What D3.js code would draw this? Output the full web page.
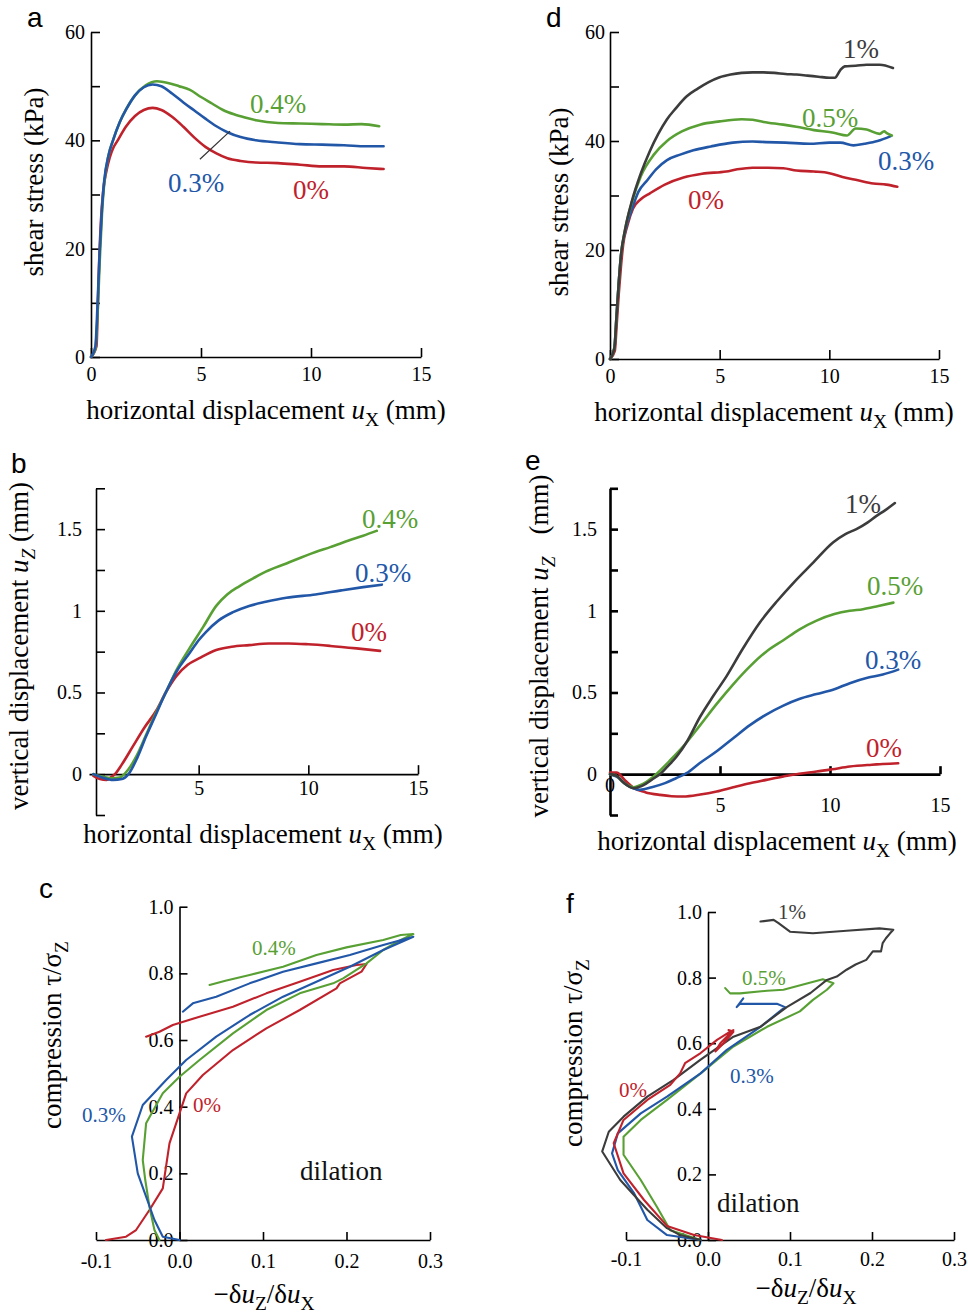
<!DOCTYPE html>
<html>
<head>
<meta charset="utf-8">
<script src="https://cdn.jsdelivr.net/npm/d3@7"></script>
<style>
  body { margin: 0; background: #fff; }
  svg { display: block; }
</style>
</head>
<body>
<svg id="chart" width="968" height="1313" font-family="'Liberation Serif', 'DejaVu Serif', 'Times New Roman', Times, serif"></svg>
<script>
// ---- data: [x, y] pairs ----
// a: shear stress (kPa) vs ux (mm)
const a_0 = [[0,0],[0.25,2],[0.3,8],[0.35,15],[0.45,25],[0.55,30.5],[0.7,34.3],[0.85,36.8],[1.0,38.5],[1.2,39.9],[1.6,42.6],[2.0,44.5],[2.4,45.6],[2.8,46],[3.2,45.6],[3.7,44.3],[4.2,42.5],[4.7,40.5],[5.2,38.8],[5.7,37.6],[6.2,36.7],[6.8,36.2],[7.5,35.9],[8.5,35.8],[9.5,35.5],[10.5,35.2],[11.5,35.2],[12.5,34.9],[13.3,34.7]];
const a_03 = [[0,0],[0.2,2],[0.3,10],[0.4,20],[0.5,27.5],[0.6,32.5],[0.8,37.3],[1.0,40],[1.3,43.3],[1.6,45.7],[2.0,48.3],[2.4,49.8],[2.8,50.3],[3.2,50],[3.7,48.6],[4.2,47],[4.7,45.5],[5.2,44],[5.7,42.6],[6.2,41.5],[6.8,40.6],[7.5,40],[8.5,39.6],[9.5,39.3],[10.5,39.2],[11.5,39.1],[12.5,38.9],[13.3,38.9]];
const a_04 = [[0,0],[0.2,1.5],[0.3,8],[0.4,18],[0.5,26.5],[0.6,32],[0.8,37.3],[1.0,40],[1.3,43.3],[1.6,45.8],[2.0,48.3],[2.5,50.2],[3.0,50.9],[3.5,50.6],[4.0,50],[4.5,49.3],[5.0,48],[5.5,46.8],[6.0,45.6],[6.5,44.8],[7.0,44.2],[7.5,43.7],[8.5,43.2],[9.5,43.1],[10.5,43],[11.5,42.9],[12.3,43],[13.1,42.6]];
const a_pointer = [[4.95,36.5],[6.32,41.7]];

// d: shear stress (kPa) vs ux (mm)
const d_1 = [[0,0],[0.2,2],[0.3,8],[0.4,14],[0.5,19],[0.7,24],[1.0,29],[1.4,34],[1.8,38],[2.2,41.3],[2.6,44],[3.0,46],[3.5,48.2],[4.0,49.6],[4.5,50.8],[5.0,51.7],[5.5,52.2],[6.0,52.5],[6.5,52.6],[7.0,52.6],[7.5,52.5],[8.0,52.3],[8.5,52.2],[9.0,52],[9.5,51.8],[10.0,51.6],[10.25,51.6],[10.5,53],[10.7,53.7],[11.2,53.8],[11.7,54],[12.3,54],[12.9,53.4]];
const d_05 = [[0,0],[0.2,2],[0.3,8],[0.4,14],[0.5,19],[0.7,24],[1.0,28.8],[1.4,33.5],[2.0,37.5],[2.6,40],[3.3,41.8],[4.1,43],[5.0,43.6],[6.0,44],[6.5,43.9],[7.0,43.5],[7.9,43],[8.5,42.6],[9.3,42],[10.2,41.5],[10.8,41],[11.2,42.3],[11.7,42.1],[12.3,41.3],[12.5,41.8],[12.6,41.5],[12.85,41]];
const d_03 = [[0,0],[0.2,2],[0.3,8],[0.4,14],[0.5,19],[0.7,23.5],[1.0,27.5],[1.3,30.7],[1.7,32.8],[2.1,34.8],[2.6,36.5],[3.2,37.5],[3.8,38.3],[4.6,39],[5.6,39.7],[6.5,39.9],[7.1,39.8],[8.0,39.7],[9.1,39.5],[10.0,39.7],[10.5,39.7],[11.1,39.2],[11.6,39.5],[12.2,40],[12.8,40.9]];
const d_0 = [[0,0],[0.22,1.5],[0.3,6],[0.4,12],[0.5,17],[0.6,21],[0.8,24.6],[1.05,27.6],[1.4,29.3],[1.82,30.4],[2.5,32],[3.35,33.3],[4.2,34],[5.3,34.4],[5.8,34.8],[6.5,35.1],[7.2,35.1],[7.9,35],[8.5,34.6],[9.3,34.4],[10.0,34.1],[10.6,33.4],[11.3,32.8],[12.0,32.2],[12.6,32],[13.1,31.6]];

// b: vertical displacement uz (mm) vs ux (mm)
const b_04 = [[0.2,0],[0.6,-0.015],[1.0,-0.025],[1.4,-0.02],[1.8,0.03],[2.2,0.12],[2.6,0.24],[3.0,0.36],[3.5,0.5],[4.0,0.64],[4.58,0.77],[5.2,0.9],[5.8,1.03],[6.3,1.1],[6.85,1.15],[7.5,1.2],[8.06,1.24],[9.0,1.29],[10.33,1.36],[11.0,1.39],[11.84,1.43],[12.5,1.46],[13.12,1.49]];
const b_03 = [[0.2,0],[0.6,-0.02],[1.1,-0.035],[1.5,-0.03],[1.8,0],[2.2,0.1],[2.6,0.23],[3.0,0.35],[3.5,0.5],[4.0,0.63],[4.58,0.74],[5.0,0.82],[5.33,0.87],[5.9,0.94],[6.54,0.99],[7.3,1.03],[8.06,1.055],[9.0,1.08],[10.33,1.1],[11.5,1.125],[12.5,1.145],[13.35,1.16]];
const b_0 = [[0.2,-0.01],[0.5,-0.03],[0.8,-0.035],[1.0,-0.02],[1.18,0],[1.5,0.06],[2.0,0.17],[2.5,0.28],[3.07,0.39],[3.5,0.5],[3.98,0.6],[4.5,0.67],[5.03,0.71],[5.8,0.76],[6.5,0.78],[7.3,0.79],[8.2,0.8],[9.1,0.8],[10.0,0.795],[11.0,0.785],[12.2,0.77],[13.27,0.755]];

// e: vertical displacement uz (mm) vs ux (mm)
const e_1 = [[0,0],[0.3,-0.01],[0.6,-0.05],[1.06,-0.086],[1.4,-0.075],[1.67,-0.055],[2.0,-0.025],[2.27,0],[2.6,0.045],[3.03,0.108],[3.5,0.2],[4.09,0.35],[4.7,0.48],[5.3,0.6],[6.0,0.76],[6.82,0.93],[7.6,1.06],[8.33,1.17],[9.2,1.29],[10.15,1.42],[10.7,1.47],[11.2,1.5],[11.7,1.54],[12.1,1.58],[12.5,1.615],[12.95,1.66]];
const e_05 = [[0,0],[0.3,-0.01],[0.6,-0.05],[1.06,-0.08],[1.5,-0.06],[2.1,0],[2.7,0.08],[3.33,0.17],[4.1,0.3],[4.85,0.43],[5.6,0.55],[6.36,0.66],[7.1,0.75],[7.88,0.82],[8.6,0.885],[9.39,0.94],[10.2,0.98],[10.9,1.0],[11.5,1.01],[12.2,1.03],[12.88,1.05]];
const e_03 = [[0,0],[0.3,-0.015],[0.7,-0.06],[1.36,-0.096],[1.9,-0.08],[2.5,-0.055],[3.0,-0.025],[3.48,0.006],[4.1,0.07],[4.85,0.14],[5.6,0.22],[6.36,0.3],[7.1,0.365],[7.88,0.42],[8.6,0.46],[9.39,0.49],[10.2,0.52],[10.9,0.557],[11.7,0.59],[12.4,0.61],[13.1,0.64]];
const e_0 = [[0,0.01],[0.3,0.01],[0.7,-0.04],[1.06,-0.082],[1.6,-0.11],[2.27,-0.127],[2.8,-0.135],[3.33,-0.137],[4.1,-0.125],[4.85,-0.106],[5.6,-0.08],[6.36,-0.055],[7.1,-0.035],[7.88,-0.014],[8.6,0.003],[9.39,0.016],[10.1,0.03],[10.9,0.047],[11.9,0.058],[13.1,0.067]];

// c: tau/sigma_z vs -duz/dux (path order)
const c_04 = [[-0.024,0],[-0.03,0.03],[-0.036,0.1],[-0.041,0.18],[-0.044,0.24],[-0.04,0.35],[-0.02,0.44],[0,0.49],[0.024,0.54],[0.064,0.62],[0.104,0.69],[0.144,0.74],[0.184,0.77],[0.196,0.785],[0.224,0.83],[0.244,0.87],[0.265,0.9],[0.28,0.918],[0.265,0.915],[0.244,0.9],[0.2,0.878],[0.164,0.855],[0.124,0.82],[0.084,0.795],[0.055,0.778],[0.036,0.765]];
const c_03 = [[0,0],[-0.02,0.01],[-0.03,0.06],[-0.04,0.13],[-0.05,0.2],[-0.057,0.31],[-0.044,0.405],[-0.016,0.48],[0.008,0.54],[0.044,0.61],[0.084,0.675],[0.124,0.73],[0.164,0.775],[0.204,0.82],[0.244,0.87],[0.28,0.91],[0.244,0.885],[0.204,0.855],[0.164,0.83],[0.124,0.805],[0.084,0.77],[0.044,0.73],[0.016,0.71],[0.004,0.685]];
const c_0 = [[-0.088,0],[-0.064,0.01],[-0.052,0.03],[-0.036,0.09],[-0.02,0.155],[-0.012,0.29],[0,0.38],[0.008,0.44],[0.028,0.495],[0.064,0.57],[0.104,0.635],[0.144,0.69],[0.188,0.755],[0.192,0.77],[0.218,0.805],[0.224,0.828],[0.212,0.825],[0.184,0.81],[0.144,0.775],[0.104,0.74],[0.064,0.7],[0.024,0.67],[-0.008,0.645],[-0.024,0.625],[-0.04,0.61]];

// f: tau/sigma_z vs -duz/dux (path order)
const f_1 = [[-0.009,0],[-0.034,0.015],[-0.05,0.036],[-0.074,0.092],[-0.107,0.183],[-0.129,0.27],[-0.121,0.33],[-0.103,0.376],[-0.074,0.437],[-0.042,0.488],[-0.009,0.55],[0.031,0.62],[0.064,0.65],[0.096,0.71],[0.125,0.753],[0.145,0.793],[0.157,0.803],[0.169,0.824],[0.18,0.84],[0.193,0.854],[0.201,0.88],[0.211,0.88],[0.213,0.905],[0.217,0.92],[0.222,0.935],[0.226,0.946],[0.209,0.95],[0.169,0.943],[0.128,0.935],[0.1,0.94],[0.086,0.966],[0.08,0.976],[0.064,0.971]];
const f_05 = [[-0.009,0],[-0.046,0.03],[-0.062,0.1],[-0.082,0.183],[-0.103,0.26],[-0.103,0.315],[-0.082,0.366],[-0.05,0.427],[-0.009,0.508],[0.031,0.59],[0.072,0.65],[0.112,0.697],[0.128,0.732],[0.145,0.763],[0.153,0.783],[0.14,0.795],[0.092,0.763],[0.072,0.76],[0.039,0.752],[0.027,0.752],[0.021,0.768]];
const f_03 = [[-0.009,0],[-0.05,0.015],[-0.074,0.061],[-0.09,0.142],[-0.11,0.213],[-0.117,0.264],[-0.11,0.325],[-0.082,0.386],[-0.05,0.437],[-0.009,0.508],[0.023,0.58],[0.064,0.65],[0.084,0.69],[0.094,0.71],[0.084,0.72],[0.039,0.72],[0.035,0.71],[0.043,0.737]];
const f_0 = [[0.017,0],[-0.017,0.015],[-0.05,0.043],[-0.078,0.122],[-0.103,0.203],[-0.115,0.295],[-0.103,0.366],[-0.074,0.427],[-0.046,0.473],[-0.034,0.508],[-0.028,0.539],[-0.009,0.57],[0.011,0.61],[0.027,0.635],[0.031,0.64],[0.015,0.6],[0.009,0.575],[0.019,0.6],[0.031,0.635],[0.025,0.64]];

// tick values
const stressTicks = [0, 20, 40, 60];
const stressMinor = [10, 30, 50];
const uxTicks = [0, 5, 10, 15];
const uxTicksNoZero = [5, 10, 15];
const uzTicks = [0, 0.5, 1, 1.5];
const uzMinor = [-0.25, 0.25, 0.75, 1.25, 1.75];
const ratioTicks = [0, 0.2, 0.4, 0.6, 0.8, 1.0];
const dilTicks = [-0.1, 0, 0.1, 0.2, 0.3];

const RED = "#c0222c", GREEN = "#58a034", BLUE = "#2257a8", BLACK = "#3c3c3c";
const SERIF = "'Liberation Serif', 'DejaVu Serif', 'Times New Roman', Times, serif";

const svg = d3.select("#chart");

function axes(o) {
  const xa = svg.append("g").attr("transform", `translate(0,${o.xAt})`)
    .call(d3.axisBottom(o.x).tickValues(o.xTicks).tickSize(-o.tick).tickSizeOuter(0)
      .tickPadding(o.xPad).tickFormat(o.fx || (d => d)));
  const ya = svg.append("g").attr("transform", `translate(${o.yAt},0)`)
    .call(d3.axisLeft(o.y).tickValues(o.yTicks).tickSize(-o.tick).tickSizeOuter(0)
      .tickPadding(o.yPad).tickFormat(o.fy || (d => d)));
  [xa, ya].forEach(g => {
    g.attr("font-family", SERIF).attr("font-size", 20);
    g.selectAll("path, line").attr("stroke-width", o.sw);
  });
  if (o.yMinor) {
    const ym = svg.append("g").attr("transform", `translate(${o.yAt},0)`)
      .call(d3.axisLeft(o.y).tickValues(o.yMinor).tickSize(-o.tick).tickSizeOuter(0).tickFormat(""));
    ym.select(".domain").remove();
    ym.selectAll("line").attr("stroke-width", o.sw);
  }
}

function curve(x, y, data, color, w, c) {
  svg.append("path").datum(data)
    .attr("fill", "none").attr("stroke", color).attr("stroke-width", w)
    .attr("stroke-linejoin", "round").attr("stroke-linecap", "round")
    .attr("d", d3.line().x(d => x(d[0])).y(d => y(d[1])).curve(c || d3.curveMonotoneX));
}

function txt(x, y, s, color, size, anchor) {
  svg.append("text").attr("x", x).attr("y", y).attr("fill", color)
    .attr("font-family", SERIF)
    .attr("font-size", size).attr("text-anchor", anchor || "start").text(s);
}

// parts: {t, it, sub, dx}
function title(x, y, parts, rot, size) {
  size = size || 27;
  const t = svg.append("text").attr("text-anchor", "middle").attr("font-size", size)
    .attr("font-family", SERIF)
    .attr("transform", `translate(${x},${y})` + (rot ? " rotate(-90)" : ""));
  let down = false;
  parts.forEach(p => {
    const s = t.append("tspan").text(p.t);
    if (p.it) s.attr("font-style", "italic");
    if (p.dx) s.attr("dx", p.dx);
    if (p.sub) { s.attr("font-size", size * 0.72).attr("dy", size * 0.25); down = true; }
    else if (down) { s.attr("dy", -size * 0.25); down = false; }
  });
}

function letter(x, y, s) {
  svg.append("text").attr("x", x).attr("y", y).attr("font-size", 28)
    .attr("font-family", "'Liberation Sans', Arial, sans-serif").text(s);
}

const uxTitle = [{t: "horizontal displacement "}, {t: "u", it: true}, {t: "X", sub: true}, {t: " (mm)"}];

// ---------- panel a ----------
{
  const x = d3.scaleLinear().domain([0, 15]).range([91, 421]);
  const y = d3.scaleLinear().domain([0, 60]).range([357, 32]);
  axes({x, y, xAt: y(0), yAt: x(0), xTicks: uxTicks, yTicks: stressTicks, yMinor: stressMinor,
        tick: 9, xPad: 10, yPad: 6, sw: 1.6});
  curve(x, y, a_0, RED, 2.6);
  curve(x, y, a_04, GREEN, 2.6);
  curve(x, y, a_03, BLUE, 2.6);
  svg.append("path").datum(a_pointer).attr("stroke", "#333").attr("stroke-width", 1.2)
    .attr("d", d3.line().x(d => x(d[0])).y(d => y(d[1])));
  txt(250, 113, "0.4%", GREEN, 27);
  txt(168, 192, "0.3%", BLUE, 27);
  txt(293, 199, "0%", RED, 27);
  letter(27, 27, "a");
  title(266, 419, uxTitle);
  title(43, 182, [{t: "shear stress (kPa)"}], true);
}

// ---------- panel d ----------
{
  const x = d3.scaleLinear().domain([0, 15]).range([610, 939]);
  const y = d3.scaleLinear().domain([0, 60]).range([359, 32]);
  axes({x, y, xAt: y(0), yAt: x(0), xTicks: uxTicks, yTicks: stressTicks, yMinor: stressMinor,
        tick: 9, xPad: 10, yPad: 5, sw: 1.6});
  curve(x, y, d_0, RED, 2.6);
  curve(x, y, d_03, BLUE, 2.6);
  curve(x, y, d_05, GREEN, 2.6);
  curve(x, y, d_1, BLACK, 2.6);
  txt(843, 58, "1%", BLACK, 27);
  txt(802, 127, "0.5%", GREEN, 27);
  txt(878, 170, "0.3%", BLUE, 27);
  txt(688, 209, "0%", RED, 27);
  letter(546, 27, "d");
  title(774, 421, uxTitle);
  title(568, 202, [{t: "shear stress (kPa)"}], true);
}

// ---------- panel b ----------
{
  const x = d3.scaleLinear().domain([0, 15]).range([89, 418]);
  const y = d3.scaleLinear().domain([-0.25, 1.75]).range([815, 488.3]);
  axes({x, y, xAt: y(0), yAt: 96, xTicks: uxTicksNoZero, yTicks: uzTicks, yMinor: uzMinor,
        tick: 9, xPad: 7, yPad: 14, sw: 1.6});
  curve(x, y, b_0, RED, 2.6);
  curve(x, y, b_04, GREEN, 2.6);
  curve(x, y, b_03, BLUE, 2.6);
  txt(362, 528, "0.4%", GREEN, 27);
  txt(355, 582, "0.3%", BLUE, 27);
  txt(351, 641, "0%", RED, 27);
  letter(11, 473, "b");
  title(263, 843, uxTitle);
  title(28, 646, [{t: "vertical displacement "}, {t: "u", it: true}, {t: "Z", sub: true, it: true}, {t: " (mm)"}], true);
}

// ---------- panel e ----------
{
  const x = d3.scaleLinear().domain([0, 15]).range([610, 940]);
  const y = d3.scaleLinear().domain([-0.25, 1.75]).range([815, 488.3]);
  axes({x, y, xAt: y(0), yAt: x(0), xTicks: uxTicksNoZero, yTicks: uzTicks, yMinor: uzMinor,
        tick: 8, xPad: 24, yPad: 13, sw: 2.6});
  svg.append("text").attr("x", x(0)).attr("y", y(0) + 18).attr("font-size", 20)
    .attr("font-family", SERIF).attr("text-anchor", "middle").text("0");
  curve(x, y, e_0, RED, 2.6);
  curve(x, y, e_03, BLUE, 2.6);
  curve(x, y, e_05, GREEN, 2.6);
  curve(x, y, e_1, BLACK, 2.6);
  txt(845, 513, "1%", BLACK, 27);
  txt(867, 595, "0.5%", GREEN, 27);
  txt(865, 669, "0.3%", BLUE, 27);
  txt(866, 757, "0%", RED, 27);
  letter(525, 470, "e");
  title(777, 850, uxTitle);
  title(548, 646, [{t: "vertical displacement "}, {t: "u", it: true}, {t: "Z", sub: true, it: true}, {t: "(mm)", dx: 22}], true);
}

// ---------- panel c ----------
{
  const x = d3.scaleLinear().domain([-0.1, 0.3]).range([96, 430]);
  const y = d3.scaleLinear().domain([0, 1]).range([1240, 906.7]);
  axes({x, y, xAt: y(0), yAt: x(0), xTicks: dilTicks, yTicks: ratioTicks,
        tick: 8, xPad: 14, yPad: 6, sw: 1.6, fx: d => d.toFixed(1), fy: d => d.toFixed(1)});
  curve(x, y, c_0, RED, 2.1, d3.curveLinear);
  curve(x, y, c_04, GREEN, 2.1, d3.curveLinear);
  curve(x, y, c_03, BLUE, 2.1, d3.curveLinear);
  txt(252, 955, "0.4%", GREEN, 21);
  txt(82, 1122, "0.3%", BLUE, 21);
  txt(193, 1112, "0%", RED, 21);
  txt(300, 1180, "dilation", "#111", 27);
  letter(39, 898, "c");
  title(264, 1303, [{t: "\u2212\u03b4"}, {t: "u", it: true}, {t: "Z", sub: true}, {t: "/\u03b4"}, {t: "u", it: true}, {t: "X", sub: true}]);
  title(61, 1035, [{t: "compression  \u03c4/\u03c3"}, {t: "Z", sub: true}], true);
}

// ---------- panel f ----------
{
  const x = d3.scaleLinear().domain([-0.1, 0.3]).range([626, 954]);
  const y = d3.scaleLinear().domain([0, 1]).range([1240, 912]);
  axes({x, y, xAt: y(0), yAt: x(0), xTicks: dilTicks, yTicks: ratioTicks,
        tick: 8, xPad: 12, yPad: 6, sw: 1.6, fx: d => d.toFixed(1), fy: d => d.toFixed(1)});
  curve(x, y, f_05, GREEN, 2.1, d3.curveLinear);
  curve(x, y, f_03, BLUE, 2.1, d3.curveLinear);
  curve(x, y, f_1, BLACK, 2.1, d3.curveLinear);
  curve(x, y, f_0, RED, 2.1, d3.curveLinear);
  txt(778, 919, "1%", BLACK, 21);
  txt(742, 985, "0.5%", GREEN, 21);
  txt(730, 1083, "0.3%", BLUE, 21);
  txt(619, 1097, "0%", RED, 21);
  txt(717, 1212, "dilation", "#111", 27);
  letter(566, 913, "f");
  title(806, 1297, [{t: "\u2212\u03b4"}, {t: "u", it: true}, {t: "Z", sub: true}, {t: "/\u03b4"}, {t: "u", it: true}, {t: "X", sub: true}]);
  title(582, 1053, [{t: "compression  \u03c4/\u03c3"}, {t: "Z", sub: true}], true);
}
</script>
</body>
</html>
